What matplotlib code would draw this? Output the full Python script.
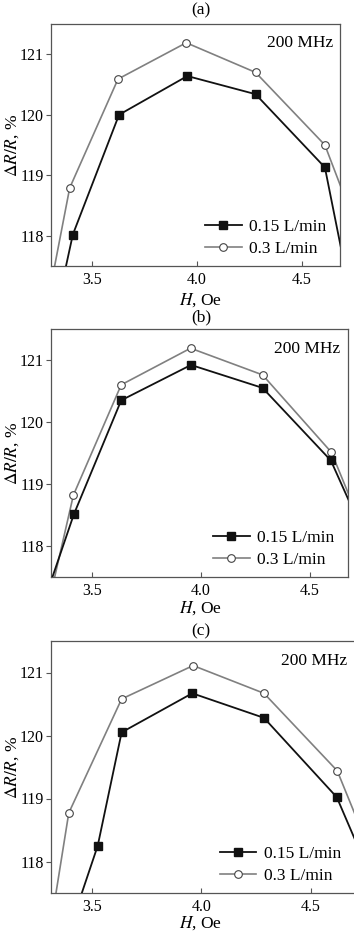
import matplotlib
matplotlib.use("Agg")
import matplotlib.pyplot as plt

plt.rcParams["font.family"] = ["Liberation Serif", "DejaVu Serif"]
plt.rcParams["mathtext.fontset"] = "stix"

panels = ["(a)", "(b)", "(c)"]
labels = ["0.15 L/min", "0.3 L/min"]

# panel (a) -- first and last points lie outside the axes
h_a1 = [3.19, 3.41, 3.63, 3.955, 4.28, 4.61, 4.94]
r_a1 = [114.5, 118.02, 120.0, 120.64, 120.34, 119.13, 113.4]
h_a2 = [3.19, 3.395, 3.625, 3.95, 4.28, 4.61, 4.94]
r_a2 = [115.1, 118.79, 120.59, 121.19, 120.70, 119.50, 116.5]

# panel (b)
h_b1 = [3.19, 3.415, 3.633, 3.954, 4.283, 4.597, 4.94]
r_b1 = [116.2, 118.51, 120.35, 120.92, 120.55, 119.38, 116.7]
h_b2 = [3.19, 3.413, 3.633, 3.952, 4.283, 4.60, 4.94]
r_b2 = [115.4, 118.82, 120.60, 121.19, 120.76, 119.51, 116.6]

# panel (c)
h_c1 = [3.30, 3.527, 3.636, 3.958, 4.285, 4.617, 4.94]
r_c1 = [115.9, 118.25, 120.05, 120.67, 120.28, 119.02, 116.4]
h_c2 = [3.19, 3.395, 3.636, 3.962, 4.285, 4.619, 4.94]
r_c2 = [114.3, 118.77, 120.58, 121.11, 120.67, 119.44, 116.7]

series = [
    (h_a1, r_a1, h_a2, r_a2),
    (h_b1, r_b1, h_b2, r_b2),
    (h_c1, r_c1, h_c2, r_c2),
]

W, H = 354, 934
# axes boxes in pixels: left, right, top, bottom
boxes = [(51, 340, 24, 266), (51, 348, 329, 577), (51, 355, 641, 893)]
xlims = [(3.306, 4.682), (3.31, 4.676), (3.314, 4.70)]
title_y = [10, 317, 631]
xlabel_y = [300, 608, 923]

fig = plt.figure(figsize=(W / 100, H / 100), dpi=100)

spine_c = "#555555"
for i, (l, r, t, b) in enumerate(boxes):
    ax = fig.add_axes([l / W, 1 - b / H, (r - l) / W, (b - t) / H])
    x1, y1, x2, y2 = series[i]
    ax.plot(x1, y1, color="#111111", lw=1.3, marker="s", ms=5.5,
            mfc="#111111", mec="#111111", label=labels[0], zorder=3)
    ax.plot(x2, y2, color="#808080", lw=1.2, marker="o", ms=5.5,
            mfc="white", mec="#444444", mew=0.8, label=labels[1], zorder=2)
    ax.set_xlim(*xlims[i])
    ax.set_ylim(117.5, 121.5)
    ax.set_xticks([3.5, 4.0, 4.5])
    ax.set_xticklabels(["3.5", "4.0", "4.5"])
    ax.set_yticks([118, 119, 120, 121])
    ax.tick_params(axis="both", labelsize=11.5, length=3.5, width=0.8,
                   color=spine_c)
    ax.tick_params(axis="x", direction="in", pad=4)
    ax.tick_params(axis="y", direction="out", pad=1.5)
    for s in ax.spines.values():
        s.set_color(spine_c)
        s.set_linewidth(0.9)

    # labels placed in pixel positions of the reference
    ax.set_xlabel(r"$H$, Oe", fontsize=12.5)
    ax.xaxis.set_label_coords((201 - l) / (r - l), (b - xlabel_y[i]) / (b - t))
    ax.xaxis.label.set_va("center")
    ax.set_ylabel(r"$\Delta R/R$, %", fontsize=12.5)
    ax.yaxis.set_label_coords((12 - l) / (r - l), 0.5)
    ax.yaxis.label.set_va("center")
    fig.text(201 / W, 1 - title_y[i] / H, panels[i], ha="center",
             va="center", fontsize=12.5)

    ax.text(0.975, 0.92, "200 MHz", transform=ax.transAxes, ha="right",
            va="center", fontsize=12.5)
    ax.legend(loc="lower right", bbox_to_anchor=(0.99, -0.005),
              frameon=False, fontsize=12.5, handlelength=2.1,
              handletextpad=0.45, labelspacing=0.3, borderaxespad=0.2)

fig.savefig("out.png", dpi=100)
